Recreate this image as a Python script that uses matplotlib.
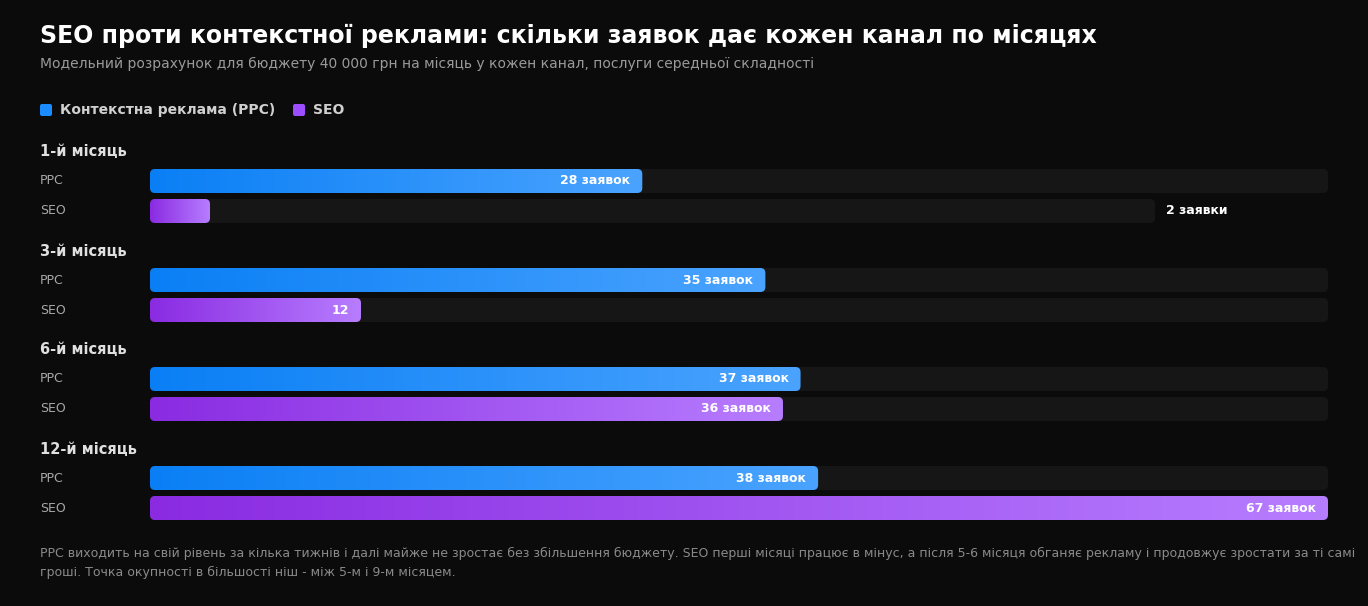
import numpy as np
import matplotlib.pyplot as plt
from matplotlib.patches import FancyBboxPatch
from matplotlib.colors import LinearSegmentedColormap

months = ['1-й місяць', '3-й місяць', '6-й місяць', '12-й місяць']
ppc = [28, 35, 37, 38]
seo = [2, 12, 36, 67]
ppc_labels = ['28 заявок', '35 заявок', '37 заявок', '38 заявок']
seo_labels = ['2 заявки', '12', '36 заявок', '67 заявок']
vmax = 67

W, H = 1368, 606
bg = '#0b0b0b'
fig = plt.figure(figsize=(W / 100, H / 100), dpi=100, facecolor=bg)
ax = fig.add_axes([0, 0, 1, 1])
ax.set_xlim(0, W)
ax.set_ylim(H, 0)
ax.axis('off')
ax.set_facecolor(bg)

cm_ppc = LinearSegmentedColormap.from_list('ppc', ['#0a7ff5', '#4aa3ff'])
cm_seo = LinearSegmentedColormap.from_list('seo', ['#8a2be2', '#b77dff'])

x0, track_w, bh = 150, 1178, 24


def rbox(x, y, w, color=None, z=1):
    p = FancyBboxPatch((x, y - bh / 2), w, bh, boxstyle='round,pad=0,rounding_size=5',
                       fc=color if color else 'none', ec='none', zorder=z)
    ax.add_patch(p)
    return p


def bar(y, val, label, cmap):
    w = max(val / vmax * track_w, 60)
    outside = w < 120
    rbox(x0, y, track_w - (173 if outside else 0), '#161616', 1)
    clip = rbox(x0, y, w, None, 2)
    grad = np.linspace(0, 1, 256).reshape(1, -1)
    im = ax.imshow(grad, cmap=cmap, aspect='auto', extent=(x0, x0 + w, y + bh / 2, y - bh / 2), zorder=2)
    im.set_clip_path(clip)
    if outside:
        ax.text(x0 + track_w - 162, y, label, color='white', fontsize=9, fontweight='bold', va='center')
    else:
        ax.text(x0 + w - 12, y, label, color='white', fontsize=9, fontweight='bold', va='center', ha='right', zorder=3)


ax.text(40, 36, 'SEO проти контекстної реклами: скільки заявок дає кожен канал по місяцях',
        color='white', fontsize=17, fontweight='bold', va='center')
ax.text(40, 64, 'Модельний розрахунок для бюджету 40 000 грн на місяць у кожен канал, послуги середньої складності',
        color='#9a9a9a', fontsize=10, va='center')

ax.add_patch(FancyBboxPatch((40, 104), 12, 12, boxstyle='round,pad=0,rounding_size=2', fc='#1a8cff', ec='none'))
ax.text(60, 110, 'Контекстна реклама (PPC)', color='#d0d0d0', fontsize=10, fontweight='bold', va='center')
ax.add_patch(FancyBboxPatch((293, 104), 12, 12, boxstyle='round,pad=0,rounding_size=2', fc='#9b4dff', ec='none'))
ax.text(313, 110, 'SEO', color='#d0d0d0', fontsize=10, fontweight='bold', va='center')

for i, m in enumerate(months):
    gy = 152 + 99 * i
    ax.text(40, gy, m, color='#e0e0e0', fontsize=10.5, fontweight='bold', va='center')
    ax.text(40, gy + 29, 'PPC', color='#a8a8a8', fontsize=9, va='center')
    ax.text(40, gy + 59, 'SEO', color='#a8a8a8', fontsize=9, va='center')
    bar(gy + 29, ppc[i], ppc_labels[i], cm_ppc)
    bar(gy + 59, seo[i], seo_labels[i], cm_seo)

ax.text(40, 563, 'PPC виходить на свій рівень за кілька тижнів і далі майже не зростає без збільшення бюджету. '
        'SEO перші місяці працює в мінус, а після 5-6 місяця обганяє рекламу і продовжує зростати за ті самі\n'
        'гроші. Точка окупності в більшості ніш - між 5-м і 9-м місяцем.',
        color='#8a8a8a', fontsize=9, va='center', linespacing=1.6)

fig.savefig('out.png', dpi=100, facecolor=bg)
